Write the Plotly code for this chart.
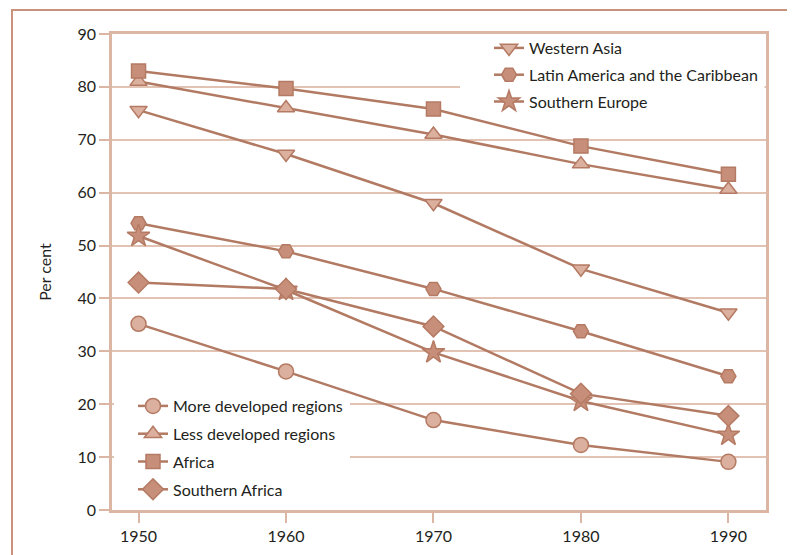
import plotly.graph_objects as go

years = [1950, 1960, 1970, 1980, 1990]

more_developed = [35.2, 26.2, 17.0, 12.3, 9.1]
less_developed = [81.0, 76.0, 71.0, 65.4, 60.6]
africa = [83.0, 79.7, 75.8, 68.8, 63.5]
southern_africa = [43.0, 41.8, 34.7, 22.0, 17.8]
western_asia = [75.6, 67.3, 58.0, 45.6, 37.3]
latin_america = [54.2, 48.9, 41.8, 33.8, 25.3]
southern_europe = [51.8, 41.6, 29.8, 20.6, 14.2]

y_ticks = [0, 10, 20, 30, 40, 50, 60, 70, 80, 90]

LINE = "#b27a63"
EDGE = "#b57a63"
LIGHT = "#dcb09e"
DARK = "#c78f7a"
GRID = "#e2c2b3"
FRAME = "#dbb6a5"
OUTER = "#c9927c"
TEXT = "#231f20"
FONT = "Lato"

series = [
    ("Western Asia", western_asia, "triangle-down", LIGHT, 15, "legend"),
    ("Latin America and the Caribbean", latin_america, "hexagon2", DARK, 15, "legend"),
    ("Southern Europe", southern_europe, "star", DARK, 17, "legend"),
    ("More developed regions", more_developed, "circle", LIGHT, 15, "legend2"),
    ("Less developed regions", less_developed, "triangle-up", LIGHT, 15, "legend2"),
    ("Africa", africa, "square", DARK, 14, "legend2"),
    ("Southern Africa", southern_africa, "diamond", DARK, 16, "legend2"),
]

fig = go.Figure()
for name, vals, sym, fill, size, leg in series:
    fig.add_trace(go.Scatter(
        x=years, y=vals, name=name, mode="lines+markers",
        line=dict(color=LINE, width=2.5),
        marker=dict(symbol=sym, size=size, color=fill, line=dict(color=EDGE, width=1.5)),
        legend=leg, legendgroup=name,
    ))

# the page body adds an 8px offset; work in page pixels and convert
OFF = 8
L, R, T, B = 112 - OFF, 766 - OFF, 34 - OFF, 510 - OFF
W, H = R - L, B - T
def px(x):
    return (x - OFF - L) / W
def py(y):
    return (B - (y - OFF)) / H

shapes = [
    # white areas behind legends (hide gridlines)
    dict(type="rect", xref="paper", yref="paper", layer="above",
         x0=px(460), x1=px(764.5), y0=py(100), y1=py(36.5),
         fillcolor="white", line=dict(width=0)),
    dict(type="rect", xref="paper", yref="paper", layer="above",
         x0=px(114), x1=px(350), y0=py(508), y1=py(396),
         fillcolor="white", line=dict(width=0)),
    # outer page frame
    dict(type="rect", xref="paper", yref="paper", layer="above",
         x0=px(12), x1=px(789), y0=py(580), y1=py(10),
         fillcolor="rgba(0,0,0,0)", line=dict(color=OUTER, width=2)),
]

fig.update_layout(
    width=795, height=555,
    margin=dict(l=L, r=795 - R, t=T, b=555 - B),
    paper_bgcolor="white", plot_bgcolor="white",
    font=dict(family=FONT, size=16, color=TEXT),
    shapes=shapes,
    legend=dict(
        x=px(489), y=py(31), xanchor="left", yanchor="top",
        bgcolor="rgba(0,0,0,0)", borderwidth=0,
        font=dict(family=FONT, size=16, color=TEXT),
        tracegroupgap=3, traceorder="grouped",
    ),
    legend2=dict(
        x=px(133), y=py(507), xanchor="left", yanchor="bottom",
        bgcolor="rgba(0,0,0,0)", borderwidth=0,
        font=dict(family=FONT, size=16, color=TEXT),
        tracegroupgap=4, traceorder="grouped",
    ),
    xaxis=dict(
        range=[1948.2, 1992.55], tickvals=years, ticktext=[str(y) for y in years],
        showgrid=False, zeroline=False,
        showline=True, mirror=True, linecolor=FRAME, linewidth=2.5,
        ticks="outside", ticklen=10, tickwidth=2, tickcolor=FRAME,
        tickfont=dict(family=FONT, size=16, color=TEXT),
    ),
    yaxis=dict(
        range=[0, 90], tickvals=y_ticks,
        showgrid=True, gridcolor=GRID, gridwidth=2, zeroline=False,
        showline=True, mirror=True, linecolor=FRAME, linewidth=2.5,
        ticks="outside", ticklen=10, tickwidth=2, tickcolor=FRAME,
        tickfont=dict(family=FONT, size=16, color=TEXT),
        title=dict(text="Per cent", font=dict(family=FONT, size=16, color=TEXT), standoff=22),
    ),
)

fig.write_html("out.html")
